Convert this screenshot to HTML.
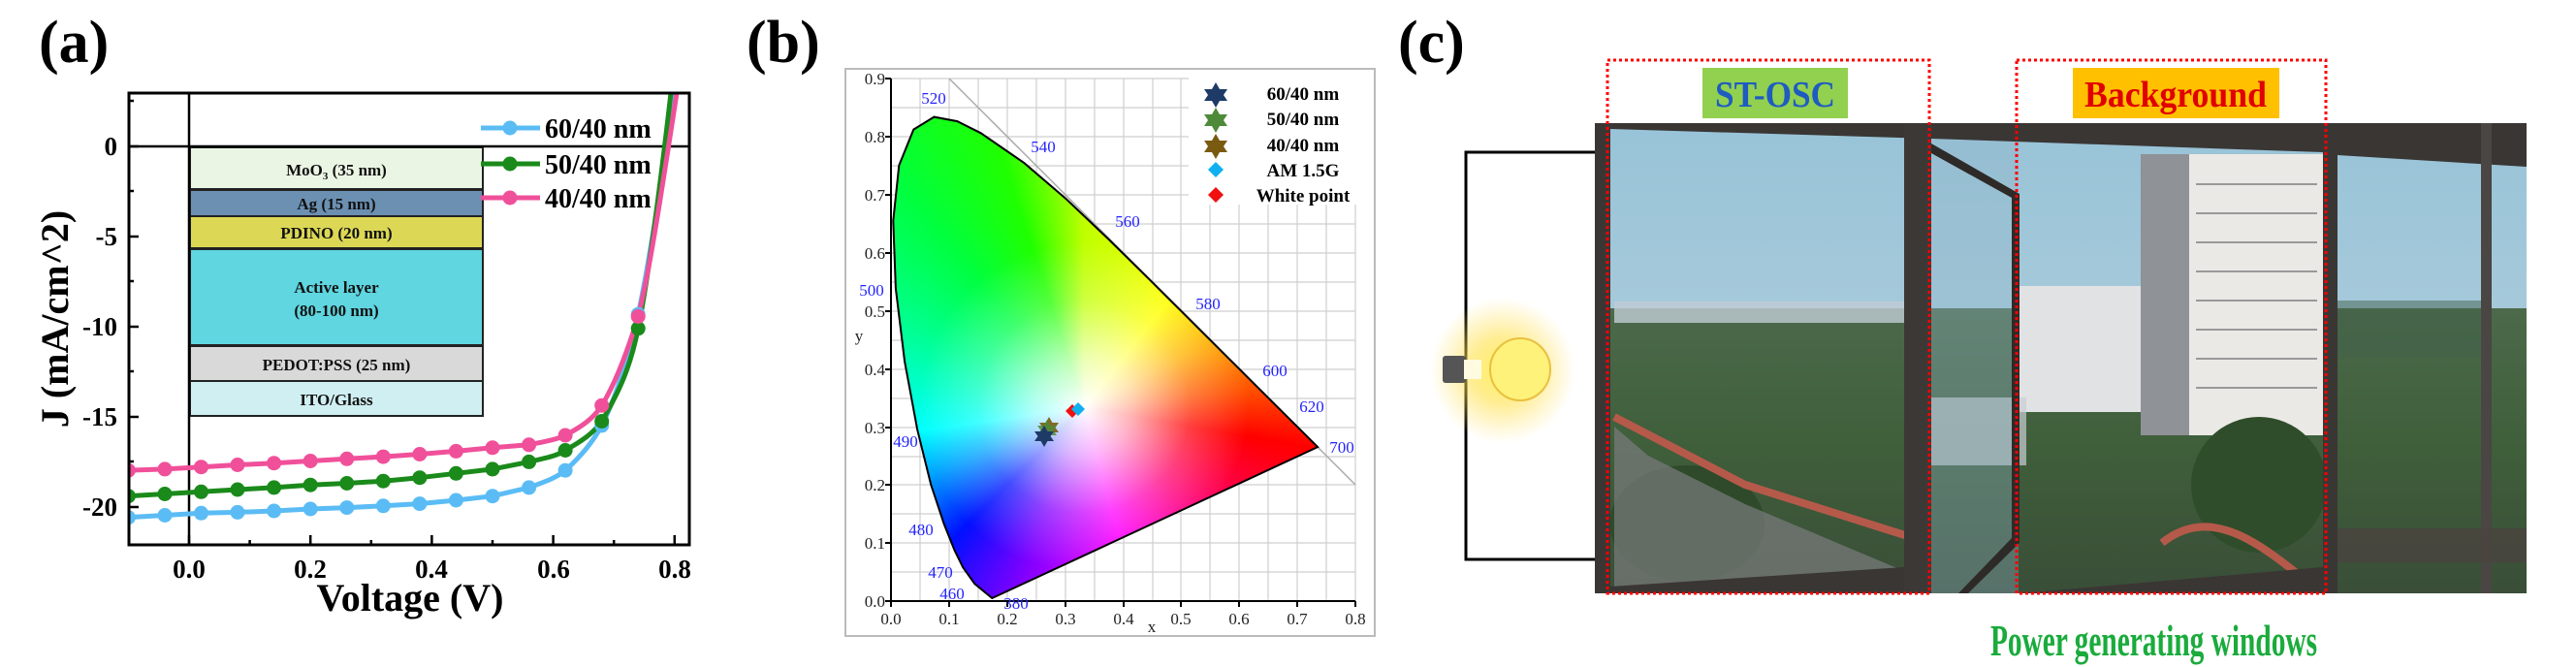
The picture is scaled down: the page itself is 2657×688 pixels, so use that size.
<!DOCTYPE html>
<html><head><meta charset="utf-8"><style>
html,body{margin:0;padding:0;background:#fff;}
#w{position:relative;width:2657px;height:688px;overflow:hidden;font-family:"Liberation Serif",serif;}
svg{position:absolute;left:0;top:0;}
#gamut{position:absolute;left:900px;top:100px;width:480px;height:540px;
background:radial-gradient(circle at 218px 320px, rgba(255,255,255,1) 0px, rgba(255,255,255,0.7) 50px, rgba(255,255,255,0.25) 110px, rgba(255,255,255,0) 170px),
conic-gradient(from 0deg at 218.5px 320.5px, #c0ff00 0deg, #ffff00 38deg, #ffb000 62deg, #ff5000 84deg, #ff0000 100deg, #ff0070 130deg, #ff00ff 165deg, #8000ff 200deg, #0010ff 225deg, #00a0ff 246deg, #00ffff 262deg, #00ff90 295deg, #00ff40 320deg, #20ff00 342deg, #c0ff00 360deg);
clip-path:polygon(123.3px 517px,105.3px 502.2px,93.3px 485.4px,84.7px 468px,73.7px 440.5px,60.2px 399.8px,46.2px 343.3px,33.1px 272.8px,23.9px 197.5px,21.3px 127.8px,27.3px 70.6px,42.3px 33.6px,63.5px 20.6px,87.4px 25.1px,111.7px 37.3px,156.5px 68.2px,199.7px 105.3px,242.5px 145.9px,285px 187.7px,326px 228.5px,363.5px 265.9px,394.6px 296.9px,433.2px 335.3px,459.1px 361.1px);}
</style></head><body><div id="w">
<svg width="2657" height="688" viewBox="0 0 2657 688" font-family="Liberation Serif, serif">
<text x="40" y="64" font-size="62" font-weight="bold">(a)</text>
<defs><clipPath id="ca"><rect x="133" y="96" width="578" height="466"/></clipPath>
<radialGradient id="glow" cx="0.5" cy="0.5" r="0.5"><stop offset="0" stop-color="#fff36a" stop-opacity="1"/><stop offset="0.45" stop-color="#ffe14a" stop-opacity="0.6"/><stop offset="1" stop-color="#ffe060" stop-opacity="0"/></radialGradient>
<linearGradient id="sky" x1="0" y1="0" x2="0" y2="1"><stop offset="0" stop-color="#98c3d8"/><stop offset="1" stop-color="#b9d3dc"/></linearGradient>
<linearGradient id="tree" x1="0" y1="0" x2="0" y2="1"><stop offset="0" stop-color="#4c6a4a"/><stop offset="0.5" stop-color="#3f5e3a"/><stop offset="1" stop-color="#3a4e38"/></linearGradient>
</defs>
<g stroke="#222" stroke-width="2">
<rect x="196" y="152" width="302" height="43" fill="#ebf5e4"/>
<rect x="196" y="196" width="302" height="27" fill="#6b90b2"/>
<rect x="196" y="223" width="302" height="33" fill="#dcd856"/>
<rect x="196" y="257" width="302" height="99" fill="#5fd6e0"/>
<rect x="196" y="357" width="302" height="36" fill="#d9d9d9"/>
<rect x="196" y="393" width="302" height="36" fill="#d0eff2"/>
</g>
<g font-size="17" font-weight="bold" text-anchor="middle" fill="#111">
<text x="347" y="181">MoO<tspan font-size="11" dy="4">3</tspan><tspan dy="-4"> (35 nm)</tspan></text>
<text x="347" y="216">Ag (15 nm)</text>
<text x="347" y="246">PDINO (20 nm)</text>
<text x="347" y="302">Active layer</text>
<text x="347" y="326">(80-100 nm)</text>
<text x="347" y="382">PEDOT:PSS (25 nm)</text>
<text x="347" y="418">ITO/Glass</text>
</g>
<line x1="133" y1="151" x2="711" y2="151" stroke="#000" stroke-width="2.5"/>
<line x1="195" y1="96" x2="195" y2="562" stroke="#000" stroke-width="2.5"/>
<g clip-path="url(#ca)" fill="none" stroke-width="5" stroke-linejoin="round" stroke-linecap="round">
<path stroke="#5bbcf5" d="M132.4,533.7 L170,531.5 L207.5,529.3 L245,528.4 L282.6,527 L320.2,525 L357.8,523.6 L395.3,521.8 L432.9,519.6 L470.4,516 L508,511.7 L545.6,502.9 C565,496 575,492 583.1,485.2 C600,470 612,455 620.7,438.9 C635,410 648,370 658.2,324.2 C668,280 680,200 697,96"/>
<path stroke="#1a8a1a" d="M132.4,511.7 L170,509.5 L207.5,507.3 L245,505 L282.6,502.9 L320.2,500.2 L357.8,498.5 L395.3,496.2 L432.9,492.7 L470.4,488.3 L508,483.9 L545.6,476.4 C565,472 575,470 583.1,464.5 C600,455 612,447 620.7,434.5 C638,405 650,380 658.2,338.8 C668,290 680,200 692,96"/>
<path stroke="#f0509a" d="M132.4,485.2 L170,483.9 L207.5,481.7 L245,479.5 L282.6,477.7 L320.2,475.5 L357.8,473.3 L395.3,471.1 L432.9,468.5 L470.4,465.4 L508,461.8 L545.6,458.8 C565,455 575,453 583.1,449 C600,440 612,432 620.7,418.2 C635,395 648,360 658.2,326.4 C670,280 682,200 698,96"/>
</g>
<g clip-path="url(#ca)">
<g fill="#5bbcf5"><circle cx="132.4" cy="533.7" r="7.5"/><circle cx="170" cy="531.5" r="7.5"/><circle cx="207.5" cy="529.3" r="7.5"/><circle cx="245" cy="528.4" r="7.5"/><circle cx="282.6" cy="527" r="7.5"/><circle cx="320.2" cy="525" r="7.5"/><circle cx="357.8" cy="523.6" r="7.5"/><circle cx="395.3" cy="521.8" r="7.5"/><circle cx="432.9" cy="519.6" r="7.5"/><circle cx="470.4" cy="516" r="7.5"/><circle cx="508" cy="511.7" r="7.5"/><circle cx="545.6" cy="502.9" r="7.5"/><circle cx="583.1" cy="485.2" r="7.5"/><circle cx="620.7" cy="438.9" r="7.5"/><circle cx="658.2" cy="324.2" r="7.5"/></g>
<g fill="#1a8a1a"><circle cx="132.4" cy="511.7" r="7.5"/><circle cx="170" cy="509.5" r="7.5"/><circle cx="207.5" cy="507.3" r="7.5"/><circle cx="245" cy="505" r="7.5"/><circle cx="282.6" cy="502.9" r="7.5"/><circle cx="320.2" cy="500.2" r="7.5"/><circle cx="357.8" cy="498.5" r="7.5"/><circle cx="395.3" cy="496.2" r="7.5"/><circle cx="432.9" cy="492.7" r="7.5"/><circle cx="470.4" cy="488.3" r="7.5"/><circle cx="508" cy="483.9" r="7.5"/><circle cx="545.6" cy="476.4" r="7.5"/><circle cx="583.1" cy="464.5" r="7.5"/><circle cx="620.7" cy="434.5" r="7.5"/><circle cx="658.2" cy="338.8" r="7.5"/></g>
<g fill="#f0509a"><circle cx="132.4" cy="485.2" r="7.5"/><circle cx="170" cy="483.9" r="7.5"/><circle cx="207.5" cy="481.7" r="7.5"/><circle cx="245" cy="479.5" r="7.5"/><circle cx="282.6" cy="477.7" r="7.5"/><circle cx="320.2" cy="475.5" r="7.5"/><circle cx="357.8" cy="473.3" r="7.5"/><circle cx="395.3" cy="471.1" r="7.5"/><circle cx="432.9" cy="468.5" r="7.5"/><circle cx="470.4" cy="465.4" r="7.5"/><circle cx="508" cy="461.8" r="7.5"/><circle cx="545.6" cy="458.8" r="7.5"/><circle cx="583.1" cy="449" r="7.5"/><circle cx="620.7" cy="418.2" r="7.5"/><circle cx="658.2" cy="326.4" r="7.5"/></g>
</g>
<g stroke-width="5"><line x1="496" y1="132" x2="557" y2="132" stroke="#5bbcf5"/><line x1="496" y1="169" x2="557" y2="169" stroke="#1a8a1a"/><line x1="496" y1="204" x2="557" y2="204" stroke="#f0509a"/></g>
<circle cx="526" cy="132" r="7.5" fill="#5bbcf5"/><circle cx="526" cy="169" r="7.5" fill="#1a8a1a"/><circle cx="526" cy="204" r="7.5" fill="#f0509a"/>
<g font-size="28" font-weight="bold"><text x="562" y="142">60/40 nm</text><text x="562" y="179">50/40 nm</text><text x="562" y="214">40/40 nm</text></g>
<rect x="133" y="96" width="578" height="466" fill="none" stroke="#000" stroke-width="3"/>
<g stroke="#000" stroke-width="2.5">
<line x1="195" y1="562" x2="195" y2="552"/><line x1="320.2" y1="562" x2="320.2" y2="552"/><line x1="445.4" y1="562" x2="445.4" y2="552"/><line x1="570.6" y1="562" x2="570.6" y2="552"/><line x1="695.8" y1="562" x2="695.8" y2="552"/>
<line x1="257.6" y1="562" x2="257.6" y2="557"/><line x1="382.8" y1="562" x2="382.8" y2="557"/><line x1="508" y1="562" x2="508" y2="557"/><line x1="633.2" y1="562" x2="633.2" y2="557"/>
<line x1="133" y1="151" x2="143" y2="151"/><line x1="133" y1="244" x2="143" y2="244"/><line x1="133" y1="337" x2="143" y2="337"/><line x1="133" y1="430" x2="143" y2="430"/><line x1="133" y1="523" x2="143" y2="523"/>
<line x1="133" y1="104" x2="138" y2="104"/><line x1="133" y1="197" x2="138" y2="197"/><line x1="133" y1="290" x2="138" y2="290"/><line x1="133" y1="383" x2="138" y2="383"/><line x1="133" y1="476" x2="138" y2="476"/>
</g>
<g font-size="27" font-weight="bold" text-anchor="middle">
<text x="195" y="596">0.0</text><text x="320" y="596">0.2</text><text x="445" y="596">0.4</text><text x="571" y="596">0.6</text><text x="696" y="596">0.8</text>
</g>
<g font-size="27" font-weight="bold" text-anchor="end">
<text x="121" y="160">0</text><text x="121" y="253">-5</text><text x="121" y="346">-10</text><text x="121" y="439">-15</text><text x="121" y="532">-20</text>
</g>
<text x="423" y="630" font-size="40" font-weight="bold" text-anchor="middle">Voltage (V)</text>
<text transform="translate(70,329) rotate(-90)" font-size="40" font-weight="bold" text-anchor="middle">J (mA/cm^2)</text>

<text x="770" y="64" font-size="62" font-weight="bold">(b)</text>
<rect x="872" y="71" width="546" height="585" fill="#fff" stroke="#bbb" stroke-width="2"/>
<g stroke="#cfcfcf" stroke-width="1.2">
<line x1="949" y1="81" x2="949" y2="620"/><line x1="979" y1="81" x2="979" y2="620"/><line x1="1009" y1="81" x2="1009" y2="620"/><line x1="1039" y1="81" x2="1039" y2="620"/><line x1="1069" y1="81" x2="1069" y2="620"/><line x1="1099" y1="81" x2="1099" y2="620"/><line x1="1129" y1="81" x2="1129" y2="620"/><line x1="1159" y1="81" x2="1159" y2="620"/><line x1="1189" y1="81" x2="1189" y2="620"/><line x1="1218" y1="81" x2="1218" y2="620"/><line x1="1248" y1="81" x2="1248" y2="620"/><line x1="1278" y1="81" x2="1278" y2="620"/><line x1="1308" y1="81" x2="1308" y2="620"/><line x1="1338" y1="81" x2="1338" y2="620"/><line x1="1368" y1="81" x2="1368" y2="620"/><line x1="1398" y1="81" x2="1398" y2="620"/>
<line x1="919" y1="81" x2="1398" y2="81"/><line x1="919" y1="111" x2="1398" y2="111"/><line x1="919" y1="141" x2="1398" y2="141"/><line x1="919" y1="171" x2="1398" y2="171"/><line x1="919" y1="201" x2="1398" y2="201"/><line x1="919" y1="231" x2="1398" y2="231"/><line x1="919" y1="261" x2="1398" y2="261"/><line x1="919" y1="291" x2="1398" y2="291"/><line x1="919" y1="321" x2="1398" y2="321"/><line x1="919" y1="351" x2="1398" y2="351"/><line x1="919" y1="381" x2="1398" y2="381"/><line x1="919" y1="411" x2="1398" y2="411"/><line x1="919" y1="441" x2="1398" y2="441"/><line x1="919" y1="471" x2="1398" y2="471"/><line x1="919" y1="500" x2="1398" y2="500"/><line x1="919" y1="530" x2="1398" y2="530"/><line x1="919" y1="560" x2="1398" y2="560"/><line x1="919" y1="590" x2="1398" y2="590"/>
</g>
<rect x="1226" y="76" width="190" height="135" fill="#fff"/>
<line x1="979" y1="81" x2="1398" y2="500" stroke="#aaa" stroke-width="1.5"/>
</svg>
<div id="gamut"></div>
<svg width="2657" height="688" viewBox="0 0 2657 688" font-family="Liberation Serif, serif">
<path d="M1023.3,617 L1005.3,602.2 L993.3,585.4 L984.7,568 L973.7,540.5 L960.2,499.8 L946.2,443.3 L933.1,372.8 L923.9,297.5 L921.3,227.8 L927.3,170.6 L942.3,133.6 L963.5,120.6 L987.4,125.1 L1011.7,137.3 L1056.5,168.2 L1099.7,205.3 L1142.5,245.9 L1185,287.7 L1226,328.5 L1263.5,365.9 L1294.6,396.9 L1333.2,435.3 L1359.1,461.1 Z" fill="none" stroke="#000" stroke-width="2"/>
<g stroke="#000" stroke-width="2">
<line x1="919" y1="81" x2="919" y2="620"/><line x1="919" y1="620" x2="1398" y2="620"/>
<line x1="919" y1="620" x2="919" y2="626"/><line x1="979" y1="620" x2="979" y2="626"/><line x1="1039" y1="620" x2="1039" y2="626"/><line x1="1099" y1="620" x2="1099" y2="626"/><line x1="1159" y1="620" x2="1159" y2="626"/><line x1="1218" y1="620" x2="1218" y2="626"/><line x1="1278" y1="620" x2="1278" y2="626"/><line x1="1338" y1="620" x2="1338" y2="626"/><line x1="1398" y1="620" x2="1398" y2="626"/>
<line x1="913" y1="81" x2="919" y2="81"/><line x1="913" y1="141" x2="919" y2="141"/><line x1="913" y1="201" x2="919" y2="201"/><line x1="913" y1="261" x2="919" y2="261"/><line x1="913" y1="321" x2="919" y2="321"/><line x1="913" y1="381" x2="919" y2="381"/><line x1="913" y1="441" x2="919" y2="441"/><line x1="913" y1="500" x2="919" y2="500"/><line x1="913" y1="560" x2="919" y2="560"/><line x1="913" y1="620" x2="919" y2="620"/>
</g>
<g font-size="17" text-anchor="end" fill="#222">
<text x="913" y="87">0.9</text><text x="913" y="147">0.8</text><text x="913" y="207">0.7</text><text x="913" y="267">0.6</text><text x="913" y="327">0.5</text><text x="913" y="387">0.4</text><text x="913" y="447">0.3</text><text x="913" y="506">0.2</text><text x="913" y="566">0.1</text><text x="913" y="626">0.0</text>
</g>
<g font-size="17" text-anchor="middle" fill="#222">
<text x="919" y="644">0.0</text><text x="979" y="644">0.1</text><text x="1039" y="644">0.2</text><text x="1099" y="644">0.3</text><text x="1159" y="644">0.4</text><text x="1218" y="644">0.5</text><text x="1278" y="644">0.6</text><text x="1338" y="644">0.7</text><text x="1398" y="644">0.8</text>
<text x="1188" y="652">x</text><text x="886" y="352">y</text>
</g>
<g font-size="17" text-anchor="middle" fill="#2424ff">
<text x="963" y="107">520</text><text x="1076" y="157">540</text><text x="1163" y="234">560</text><text x="1246" y="319">580</text><text x="1315" y="388">600</text><text x="1353" y="425">620</text><text x="1384" y="467">700</text><text x="899" y="305">500</text><text x="934" y="461">490</text><text x="950" y="552">480</text><text x="970" y="596">470</text><text x="982" y="618">460</text><text x="1048" y="628">380</text>
</g>
<polygon points="1082,430 1085.5,436 1092,436 1088.5,441 1092,446 1085.5,446 1082,452 1078.5,446 1072,446 1075.5,441 1072,436 1078.5,436" fill="#7a5a10" opacity="0.9"/>
<polygon points="1080,433 1083.5,439 1090,439 1086.5,444 1090,449 1083.5,449 1080,455 1076.5,449 1070,449 1073.5,444 1070,439 1076.5,439" fill="#4f8a3a" opacity="0.85"/>
<polygon points="1077,439 1080.5,445 1087,445 1083.5,450 1087,455 1080.5,455 1077,461 1073.5,455 1067,455 1070.5,450 1067,445 1073.5,445" fill="#1e3a66"/>
<polygon points="1106,417 1113,424 1106,431 1099,424" fill="#f01010"/>
<polygon points="1112,415 1119,422 1112,429 1105,422" fill="#10b0f0"/>
<polygon points="1254,85 1258,92 1266,92 1262,98 1266,104 1258,104 1254,111 1250,104 1242,104 1246,98 1242,92 1250,92" fill="#1e3a66"/>
<polygon points="1254,111 1258,118 1266,118 1262,124 1266,130 1258,130 1254,137 1250,130 1242,130 1246,124 1242,118 1250,118" fill="#4f8a3a"/>
<polygon points="1254,138 1258,145 1266,145 1262,151 1266,157 1258,157 1254,164 1250,157 1242,157 1246,151 1242,145 1250,145" fill="#7a5a10"/>
<polygon points="1254,167 1262,175 1254,183 1246,175" fill="#10b0f0"/>
<polygon points="1254,193 1262,201 1254,209 1246,201" fill="#f01010"/>
<g font-size="19" font-weight="bold" text-anchor="middle">
<text x="1344" y="103">60/40 nm</text><text x="1344" y="129">50/40 nm</text><text x="1344" y="156">40/40 nm</text><text x="1344" y="182">AM 1.5G</text><text x="1344" y="208">White point</text>
</g>

<text x="1442" y="64" font-size="62" font-weight="bold">(c)</text>
<path d="M1645,157 L1512,157 L1512,577 L1645,577" fill="none" stroke="#000" stroke-width="3"/>
<circle cx="1550" cy="382" r="75" fill="url(#glow)"/>
<ellipse cx="1568" cy="381" rx="31" ry="32" fill="#fff27a" stroke="#e8c040" stroke-width="2"/>
<rect x="1488" y="367" width="24" height="28" fill="#555" rx="3"/>
<rect x="1510" y="371" width="18" height="20" fill="#fffbe0"/>
<rect x="1645" y="127" width="961" height="485" fill="url(#sky)"/>
<rect x="1645" y="318" width="961" height="294" fill="url(#tree)"/>
<rect x="1665" y="311" width="300" height="22" fill="#c0ccd4" opacity="0.8"/>
<rect x="2080" y="295" width="130" height="130" fill="#e0e2e4"/>
<rect x="2208" y="159" width="188" height="290" fill="#ebe9e6"/>
<rect x="2208" y="159" width="50" height="290" fill="#8f9296"/>
<g stroke="#999" stroke-width="2"><line x1="2265" y1="190" x2="2390" y2="190"/><line x1="2265" y1="220" x2="2390" y2="220"/><line x1="2265" y1="250" x2="2390" y2="250"/><line x1="2265" y1="280" x2="2390" y2="280"/><line x1="2265" y1="310" x2="2390" y2="310"/><line x1="2265" y1="340" x2="2390" y2="340"/><line x1="2265" y1="370" x2="2390" y2="370"/><line x1="2265" y1="400" x2="2390" y2="400"/></g>
<ellipse cx="2330" cy="500" rx="70" ry="70" fill="#2f4d2a"/>
<ellipse cx="1740" cy="540" rx="80" ry="60" fill="#2e4a2b"/>
<path d="M1665,440 L1700,470 L1800,520 L1990,600 L1990,612 L1665,612 Z" fill="#7a7c7e" opacity="0.7"/>
<path d="M1665,430 L1800,500 L1990,560" fill="none" stroke="#b55a4a" stroke-width="8"/>
<rect x="1970" y="410" width="120" height="70" fill="#c9cfd4" opacity="0.7"/>
<rect x="1992" y="140" width="90" height="472" fill="#8fb5c8" opacity="0.35"/>
<path d="M2230,560 C2280,520 2330,560 2380,600" fill="none" stroke="#b55a4a" stroke-width="8"/>
<rect x="2411" y="310" width="148" height="60" fill="#40604a" opacity="0.5"/>
<path d="M1645,127 L2606,127 L2606,172 L2411,160 L2396,157 L1992,143 L1661,133 Z" fill="#3a3634"/>
<rect x="1645" y="127" width="16" height="485" fill="#3a3634"/>
<rect x="1964" y="127" width="28" height="485" fill="#3c3836"/>
<rect x="2396" y="127" width="15" height="485" fill="#3a3634"/>
<rect x="2559" y="127" width="11" height="485" fill="#4a4644"/>
<path d="M1992,148 L2083,200 L2083,560 L2030,612 L2020,612 L2075,555 L2075,204 L1992,158 Z" fill="#2e2a28"/>
<path d="M1661,605 L1964,585 L1964,612 L1661,612 Z" fill="#3a3634"/>
<path d="M2083,612 L2396,585 L2396,612 Z" fill="#3a3634"/>
<rect x="2411" y="545" width="195" height="35" fill="#4a4440" opacity="0.8"/>
<g fill="none" stroke="#ff0000" stroke-width="3" stroke-dasharray="3,3">
<rect x="1658" y="62" width="332" height="550"/>
<rect x="2080" y="62" width="319" height="550"/>
</g>
<rect x="1756" y="70" width="150" height="52" fill="#92d050"/>
<rect x="2138" y="70" width="213" height="52" fill="#ffc000"/>
<text x="1831" y="110" font-size="38" font-weight="bold" fill="#1f5cc0" text-anchor="middle" textLength="124" lengthAdjust="spacingAndGlyphs">ST-OSC</text>
<text x="2244" y="110" font-size="38" font-weight="bold" fill="#e00000" text-anchor="middle" textLength="188" lengthAdjust="spacingAndGlyphs">Background</text>
<text x="2053" y="676" font-size="46" font-weight="bold" fill="#1aab3c" textLength="337" lengthAdjust="spacingAndGlyphs">Power generating windows</text>
</svg>
</div></body></html>
